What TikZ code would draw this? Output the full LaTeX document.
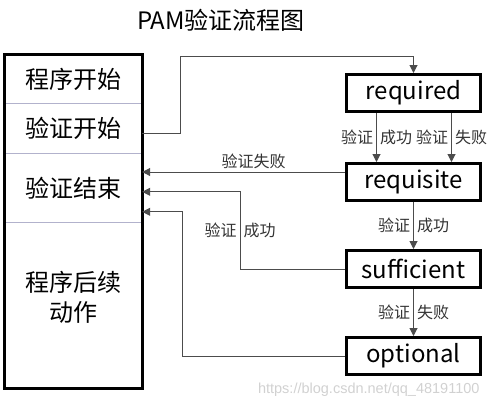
\documentclass[tikz,border=0pt]{standalone}
\usepackage{fontspec}
\setmainfont{Noto Sans CJK SC}
\newfontfamily\urlfont{Liberation Sans}
\usetikzlibrary{positioning,arrows.meta}

\begin{document}
\begin{tikzpicture}[x=1pt,y=-1pt,
  sect/.style={minimum width=137pt, inner sep=0pt, font=\fontsize{24}{30}\selectfont},
  stage/.style={draw, line width=3pt, minimum width=134pt, minimum height=37pt,
    inner sep=0pt, font=\fontsize{24}{26}\selectfont},
  conn/.style={draw=black!70, line width=1pt},
  arr/.style={conn, -{Triangle[length=8pt,width=8pt]}},
  lbl/.style={font=\fontsize{16}{18}\selectfont, text=black!80, inner sep=3pt},
  sepline/.style={draw=blue!20!gray!50, line width=0.8pt},
]
 \useasboundingbox (0,0) rectangle (492,408);
 \node[font=\fontsize{24}{26}\selectfont] (title) at (221,20) {PAM验证流程图};
 % program column
 \node[sect, minimum height=48pt] (start) at (73.5,79) {程序开始};
 \node[sect, minimum height=50pt, below=0pt of start] (auth) {验证开始};
 \node[sect, minimum height=68pt, below=0pt of auth] (done) {验证结束};
 \node[sect, minimum height=150pt, below=0pt of done, align=center] (rest) {程序后续\\动作};
 \coordinate (bottom) at ([yshift=-16pt]rest.south east);
 \draw[sepline] (auth.north west) -- (auth.north east);
 \draw[sepline] (done.north west) -- (done.north east);
 \draw[sepline] (rest.north west) -- (rest.north east);
 \draw[line width=3pt] (start.north west) rectangle (bottom);
 % module stack
 \node[stage] (required) at (413.5,93) {required};
 \node[stage, below=49pt of required] (requisite) {requisite};
 \node[stage, below=47pt of requisite] (sufficient) {sufficient};
 \node[stage, below=47pt of sufficient] (optional) {optional};
 % connectors
 \draw[arr] ([yshift=-5pt]auth.east) -- ++(38,0) |- ([yshift=17pt]required.north) -- (required.north);
 \draw[arr] ([xshift=-37pt]required.south) -- ([xshift=-37pt]requisite.north)
   node[lbl, midway, left] {验证} node[lbl, midway, right] {成功};
 \draw[arr] ([xshift=38pt]required.south) -- ([xshift=38pt]requisite.north)
   node[lbl, midway, left] {验证} node[lbl, midway, right] {失败};
 \path ([yshift=10pt]requisite.west) coordinate (fail);
 \draw[arr] (fail) -- (fail -| done.east) node[lbl, pos=0.45, above] {验证失败};
 \draw[arr] (requisite) -- (sufficient)
   node[lbl, midway, left] {验证} node[lbl, midway, right] {成功};
 \draw[arr] (sufficient.west) -- ++(-105,0) |- ([yshift=-4pt]done.east)
   node[lbl, pos=0.25, left] {验证} node[lbl, pos=0.25, right] {成功};
 \draw[arr] (sufficient) -- (optional)
   node[lbl, midway, left] {验证} node[lbl, midway, right] {失败};
 \draw[arr] (optional.west) -- ++(-163,0) |- ([yshift=-24pt]done.east);
 \node[anchor=east, text=black!18, font=\urlfont\fontsize{14.5}{16}\selectfont] (mark) at (483,390) {https://blog.csdn.net/qq\_48191100};
\end{tikzpicture}
\end{document}
